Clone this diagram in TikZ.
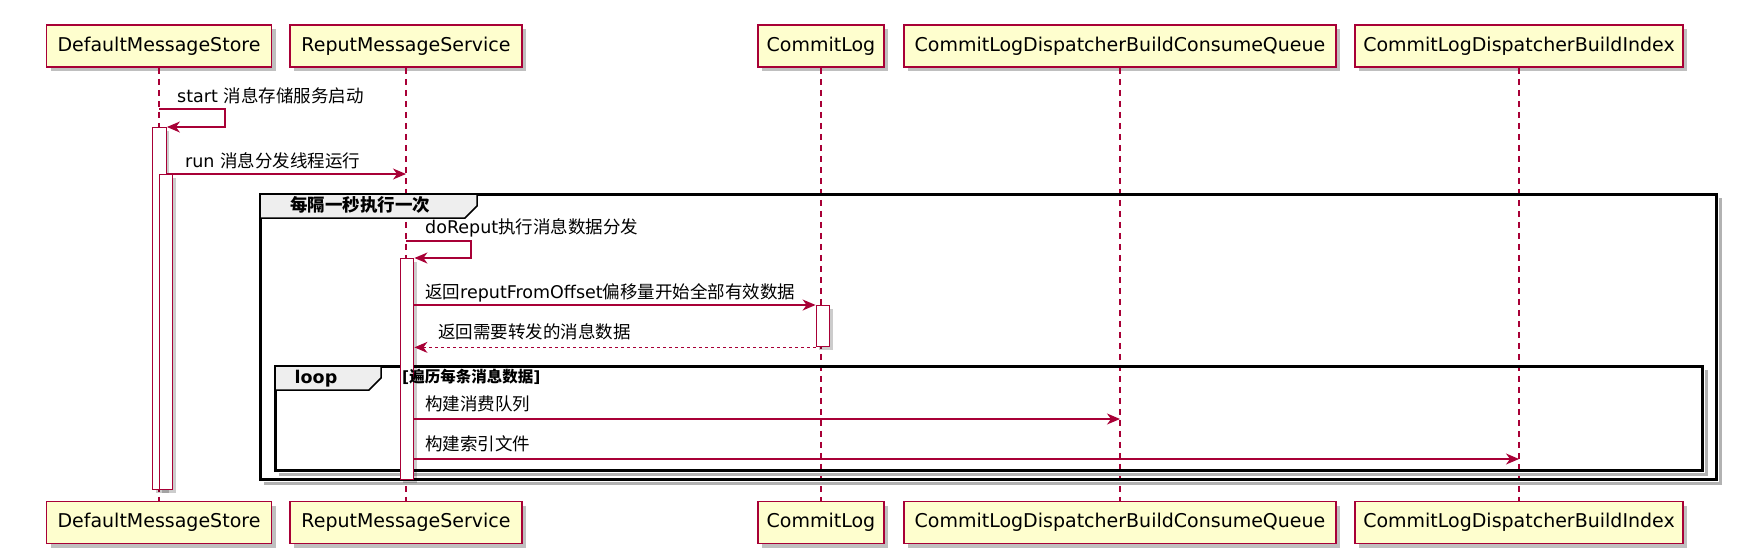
\documentclass[tikz,border=0pt]{standalone}
\usepackage{fontspec}
\setmainfont{DejaVu Sans}
\newfontfamily\cjk{Noto Sans CJK SC}
\usetikzlibrary{arrows.meta,shadows}
\definecolor{pborder}{HTML}{A80036}
\definecolor{pfill}{HTML}{FEFECE}
\definecolor{tabfill}{HTML}{EEEEEE}
\newcommand\zh[1]{{\cjk #1}}
\begin{document}
\begin{tikzpicture}[x=1pt,y=-1pt,
  part/.style={draw=pborder,fill=pfill,line width=1.6pt,minimum height=42pt,inner sep=0pt,
    font=\fontsize{19}{22}\selectfont,
    drop shadow={shadow xshift=4pt,shadow yshift=-4pt,opacity=.25,fill=black}},
  life/.style={draw=pborder,line width=1.1pt,dash pattern=on 6pt off 5pt},
  act/.style={draw=pborder,fill=white,line width=1.35pt,minimum width=13.5pt,inner sep=0pt,anchor=north,
    drop shadow={shadow xshift=3pt,shadow yshift=-3pt,opacity=.2,fill=black}},
  msg/.style={draw=pborder,line width=1.35pt,-{Stealth[length=13pt,width=11pt,inset=4pt]}},
  ret/.style={msg,dash pattern=on 3pt off 3pt},
  lbl/.style={anchor=west,inner sep=0pt,text height=14pt,text depth=3pt,font=\fontsize{17.5}{20}\selectfont},
  grp/.style={draw=black,line width=3pt},
  grpshadow/.style={draw=black!30,line width=3pt},
  tab/.style={fill=tabfill,draw=black,line width=1.5pt},
  tabtxt/.style={inner sep=0pt,text height=14pt,text depth=3pt,font=\bfseries\fontsize{17.5}{20}\selectfont},
]
\useasboundingbox (0,0) rectangle (1744,550);

% participants
\node[part,minimum width=225pt] (dmsT) at (159,46) {DefaultMessageStore};
\node[part,minimum width=232pt] (rmsT) at (406,46) {ReputMessageService};
\node[part,minimum width=126pt] (clT)  at (821,46) {CommitLog};
\node[part,minimum width=432pt] (cqT)  at (1120,46) {CommitLogDispatcherBuildConsumeQueue};
\node[part,minimum width=328pt] (idxT) at (1519,46) {CommitLogDispatcherBuildIndex};
\node[part,minimum width=225pt] (dmsB) at (159,522.5) {DefaultMessageStore};
\node[part,minimum width=232pt] (rmsB) at (406,522.5) {ReputMessageService};
\node[part,minimum width=126pt] (clB)  at (821,522.5) {CommitLog};
\node[part,minimum width=432pt] (cqB)  at (1120,522.5) {CommitLogDispatcherBuildConsumeQueue};
\node[part,minimum width=328pt] (idxB) at (1519,522.5) {CommitLogDispatcherBuildIndex};

% lifelines
\foreach \n in {dms,rms,cl,cq,idx}
  \draw[life] (\n T.south) -- (\n B.north);

% group frames
\draw[grpshadow] (1720,198) -- (1720,483) -- (264,483);
\draw[grp] (260,194) rectangle (1716,479);
\filldraw[tab] (260,194) -- (477,194) -- (477,206) -- (465,218) -- (260,218) -- cycle;
\node[tabtxt,font=\cjk\bfseries\fontsize{17.5}{20}\selectfont] (g1) at (360,206) {每隔一秒执行一次};

\draw[grpshadow] (1706,370) -- (1706,474) -- (279,474);
\draw[grp] (275,366) rectangle (1702,470);
\filldraw[tab] (275,366) -- (381,366) -- (381,378) -- (369,390) -- (275,390) -- cycle;
\node[tabtxt] (g2) at (316,378) {loop};

% row coordinates
\coordinate (r1) at (0,109);
\coordinate (r2) at (0,174);
\coordinate (r3) at (0,241);
\coordinate (r4) at (0,305);
\coordinate (r6) at (0,419);
\coordinate (r7) at (0,459);

% activations
\node[act,minimum height=362pt] (a1) at (159.5,127) {};
\node[act,minimum height=315pt] (a2) at (166,174) {};
\node[act,minimum height=221pt] (a3) at (407,258) {};
\node[act,minimum height=41pt]  (a4) at (823,305) {};

% loop guard (drawn over the activation)
\node[tabtxt,anchor=west,font=\bfseries\fontsize{15.5}{18}\selectfont] (g2c) at (402,377) {[\zh{遍历每条消息数据}]};

% messages
\draw[msg] (dmsT.south |- r1) -- ++(66,0) -- ++(0,18) -- (a1.north east);
\draw[msg] (a1.east |- r2) -- (rmsT.south |- r2);
\draw[msg] (rmsT.south |- r3) -- ++(65,0) -- ++(0,17) -- (a3.north east);
\draw[msg] (a3.east |- r4) -- (a4.north west);
\draw[ret] (a4.south west) -- (a3.east |- a4.south);
\draw[msg] (a3.east |- r6) -- (cqT.south |- r6);
\draw[msg] (a3.east |- r7) -- (idxT.south |- r7);

% labels
\node[lbl] (t1) at (177,97) {start \zh{消息存储服务启动}};
\node[lbl] (t2) at (185,162) {run \zh{消息分发线程运行}};
\node[lbl] (t3) at (425,228) {doReput\zh{执行消息数据分发}};
\node[lbl] (t4) at (425,293) {\zh{返回}reputFromOffset\zh{偏移量开始全部有效数据}};
\node[lbl] (t5) at (438,333) {\zh{返回需要转发的消息数据}};
\node[lbl] (t6) at (425,405) {\zh{构建消费队列}};
\node[lbl] (t7) at (425,445) {\zh{构建索引文件}};
\end{tikzpicture}
\end{document}
